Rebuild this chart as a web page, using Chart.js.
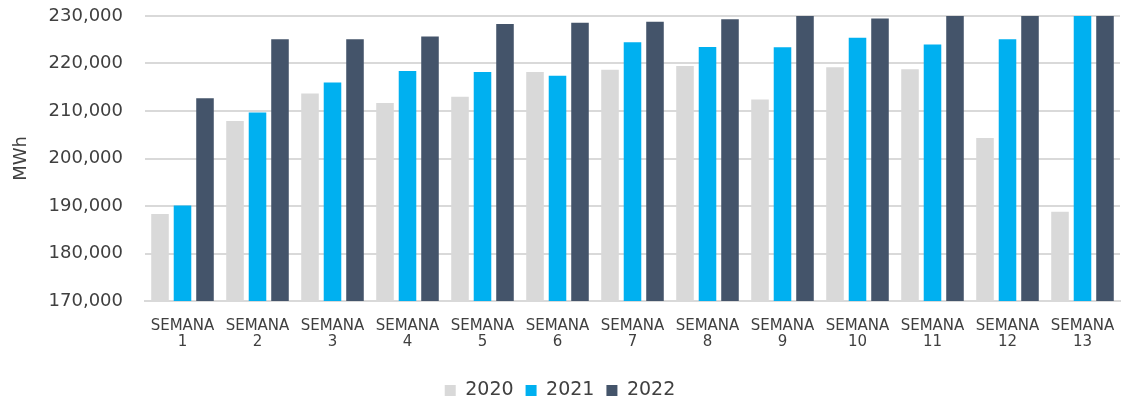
<!DOCTYPE html>
<html lang="es">
<head>
    <meta charset="UTF-8">
    <title>Demanda semanal MWh</title>
    <style>
        /* lienzo fijo al tamaño de la captura */
        body { margin: 0; background: #fff; }
        .chart-container { width: 1123px; height: 402px; }
    </style>
</head>
<body>
    <div class="chart-container">
        <canvas id="weeklyChart"></canvas>
    </div>

    <script src="https://cdnjs.cloudflare.com/ajax/libs/Chart.js/4.4.0/chart.umd.min.js"></script>
    <script>
        // Datos (MWh)
        const weeks = ['1', '2', '3', '4', '5', '6', '7', '8', '9', '10', '11', '12', '13'];
        const years = ['2020', '2021', '2022'];
        const values2020 = [188300, 207900, 213700, 211700, 213000, 218200, 218700, 219500, 212400, 219200, 218800, 204300, 188800];
        const values2021 = [190100, 209700, 216000, 218400, 218200, 217400, 224500, 223500, 223400, 225400, 224000, 225100, 233000];
        const values2022 = [212700, 225100, 225100, 225700, 228300, 228600, 228800, 229300, 232000, 229500, 232000, 233000, 234000];
        const yTicks = { min: 170000, max: 230000, step: 10000 };

        const textColor = '#404040';
        const fontFamily = '"DejaVu Sans", sans-serif';

        const weeklyChart = new Chart(document.getElementById('weeklyChart'), {
            type: 'bar',
            data: {
                labels: weeks.map(w => ['SEMANA', w]),
                datasets: [
                    { label: years[0], data: values2020, backgroundColor: '#d9d9d9' },
                    { label: years[1], data: values2021, backgroundColor: '#00b0f0' },
                    { label: years[2], data: values2022, backgroundColor: '#44546a' }
                ]
            },
            options: {
                responsive: true,
                maintainAspectRatio: false,
                animation: false,
                datasets: {
                    bar: { categoryPercentage: 0.9, barPercentage: 0.78 }
                },
                layout: { padding: { top: 16, right: 3, left: 0, bottom: -8 } },
                plugins: {
                    tooltip: { enabled: false },
                    legend: {
                        position: 'bottom',
                        labels: {
                            color: textColor,
                            font: { family: fontFamily, size: 19 },
                            boxWidth: 11,
                            boxHeight: 11,
                            padding: 12
                        }
                    }
                },
                scales: {
                    x: {
                        grid: { display: false, drawTicks: false },
                        border: { display: true, color: '#d9d9d9', width: 2 },
                        ticks: {
                            color: textColor,
                            font: { family: fontFamily, size: 15, lineHeight: 1.05 },
                            maxRotation: 0,
                            autoSkip: false,
                            padding: 17
                        },
                        afterFit: scale => {
                            scale.height = 68;
                            scale.paddingLeft = 0;
                            scale.paddingRight = 0;
                        }
                    },
                    y: {
                        min: yTicks.min,
                        max: yTicks.max,
                        grid: { color: '#d9d9d9', lineWidth: 2, drawTicks: false },
                        border: { display: false },
                        ticks: {
                            stepSize: yTicks.step,
                            color: textColor,
                            font: { family: fontFamily, size: 18 },
                            padding: 22,
                            callback: v => v.toLocaleString('en-US')
                        },
                        title: {
                            display: true,
                            text: 'MWh',
                            color: textColor,
                            font: { family: fontFamily, size: 18 },
                            padding: { top: 11, bottom: 0 }
                        },
                        afterFit: scale => {
                            scale.width = 145;
                            scale.paddingTop = 0;
                            scale.paddingBottom = 0;
                        }
                    }
                }
            }
        });
    </script>
</body>
</html>
